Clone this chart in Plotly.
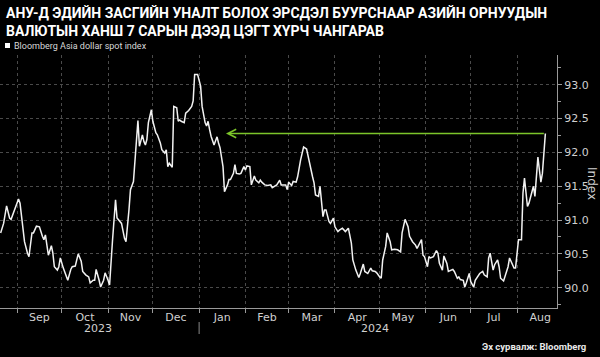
import plotly.graph_objects as go

dates = [
 "2023-08-21","2023-08-23","2023-08-25","2023-08-27","2023-08-28","2023-08-30","2023-09-01","2023-09-02","2023-09-03",
 "2023-09-05","2023-09-06","2023-09-08","2023-09-09","2023-09-11","2023-09-12","2023-09-14","2023-09-15","2023-09-16",
 "2023-09-18","2023-09-19","2023-09-20","2023-09-22","2023-09-24","2023-09-25","2023-09-26","2023-09-28","2023-09-29",
 "2023-09-30","2023-10-02","2023-10-04","2023-10-05","2023-10-07","2023-10-08","2023-10-10","2023-10-12","2023-10-14",
 "2023-10-15","2023-10-17","2023-10-19","2023-10-20","2023-10-22","2023-10-23","2023-10-24","2023-10-26","2023-10-27",
 "2023-10-29","2023-10-30","2023-11-01","2023-11-02","2023-11-04","2023-11-06","2023-11-07","2023-11-09","2023-11-10",
 "2023-11-12","2023-11-13","2023-11-15","2023-11-16","2023-11-18","2023-11-19","2023-11-21","2023-11-22","2023-11-24",
 "2023-11-25","2023-11-26","2023-11-27","2023-11-28","2023-11-30","2023-12-01","2023-12-03","2023-12-04","2023-12-06",
 "2023-12-07","2023-12-09","2023-12-10","2023-12-11","2023-12-12","2023-12-14","2023-12-15","2023-12-17","2023-12-18",
 "2023-12-19","2023-12-20","2023-12-22","2023-12-23","2023-12-25","2023-12-27","2023-12-28","2023-12-29","2023-12-31",
 "2024-01-02","2024-01-03","2024-01-04","2024-01-05","2024-01-06","2024-01-07","2024-01-08","2024-01-09","2024-01-11",
 "2024-01-12","2024-01-13","2024-01-14","2024-01-15","2024-01-17","2024-01-18","2024-01-20","2024-01-21","2024-01-22",
 "2024-01-24","2024-01-25","2024-01-26","2024-01-28","2024-01-29","2024-01-31","2024-02-01","2024-02-02","2024-02-04",
 "2024-02-05","2024-02-07","2024-02-08","2024-02-10","2024-02-11","2024-02-12","2024-02-14","2024-02-16","2024-02-18",
 "2024-02-19","2024-02-22","2024-02-24","2024-02-25","2024-02-28","2024-02-29","2024-03-01","2024-03-03","2024-03-04",
 "2024-03-06","2024-03-07","2024-03-09","2024-03-11","2024-03-13","2024-03-14","2024-03-15","2024-03-17","2024-03-18",
 "2024-03-19","2024-03-21","2024-03-22","2024-03-24","2024-03-25","2024-03-26","2024-03-28","2024-03-29","2024-03-31",
 "2024-04-01","2024-04-03","2024-04-04","2024-04-06","2024-04-08","2024-04-09","2024-04-10","2024-04-12","2024-04-13",
 "2024-04-15","2024-04-17","2024-04-18","2024-04-20","2024-04-21","2024-04-23","2024-04-25","2024-04-26","2024-04-28",
 "2024-04-29","2024-05-01","2024-05-02","2024-05-03","2024-05-05","2024-05-06","2024-05-08","2024-05-09","2024-05-11",
 "2024-05-13","2024-05-15","2024-05-16","2024-05-18","2024-05-20","2024-05-21","2024-05-23","2024-05-25","2024-05-26",
 "2024-05-27","2024-05-29","2024-05-30","2024-05-31","2024-06-02","2024-06-03","2024-06-04","2024-06-06","2024-06-08",
 "2024-06-09","2024-06-10","2024-06-12","2024-06-13","2024-06-15","2024-06-16","2024-06-18","2024-06-19","2024-06-20",
 "2024-06-22","2024-06-23","2024-06-24","2024-06-26","2024-06-27","2024-06-28","2024-06-30","2024-07-01","2024-07-03",
 "2024-07-04","2024-07-06","2024-07-07","2024-07-09","2024-07-10","2024-07-12","2024-07-13","2024-07-14","2024-07-15",
 "2024-07-16","2024-07-17","2024-07-19","2024-07-20","2024-07-21","2024-07-23","2024-07-24","2024-07-26","2024-07-27",
 "2024-07-28","2024-07-30","2024-07-31","2024-08-01","2024-08-02","2024-08-04","2024-08-05","2024-08-06","2024-08-07",
 "2024-08-08","2024-08-09","2024-08-10","2024-08-12","2024-08-13","2024-08-14","2024-08-15","2024-08-16","2024-08-17",
 "2024-08-18","2024-08-20",
]

values = [
 90.81,90.95,91.21,91.03,91.01,91.13,91.27,91.31,91.25,
 90.81,90.68,90.51,90.46,90.81,90.81,90.91,90.91,90.90,
 90.76,90.71,90.78,90.48,90.62,90.51,90.31,90.26,90.31,
 90.44,90.29,90.16,90.11,90.27,90.31,90.32,90.50,90.39,
 90.24,90.19,90.16,90.07,90.11,90.11,90.27,90.11,90.01,
 90.11,90.22,90.11,90.04,90.71,91.30,91.03,90.98,90.95,
 90.73,90.68,91.15,91.45,91.57,91.86,92.47,92.09,92.26,
 92.16,92.11,92.19,92.44,92.63,92.46,92.29,92.26,92.14,
 92.04,91.99,92.04,91.79,91.84,91.78,92.68,92.66,92.46,
 92.48,92.46,92.44,92.58,92.62,92.68,92.76,93.15,93.15,
 92.98,92.68,92.56,92.44,92.39,92.46,92.34,92.24,92.11,
 92.19,92.23,92.14,92.07,91.79,91.42,91.52,91.60,91.60,
 91.69,91.82,91.69,91.68,91.69,91.79,91.74,91.80,91.79,
 91.52,91.65,91.59,91.55,91.59,91.56,91.52,91.51,91.52,
 91.48,91.52,91.59,91.52,91.52,91.45,91.56,91.51,91.57,
 91.56,91.64,91.89,92.08,92.05,91.94,91.82,91.64,91.55,
 91.37,91.35,91.50,91.05,91.15,91.15,90.98,90.95,91.03,
 90.90,90.83,90.85,90.88,90.83,90.85,90.88,90.66,90.41,
 90.26,90.15,90.21,90.35,90.24,90.21,90.29,90.25,90.24,
 90.22,90.16,90.14,90.41,90.61,90.81,90.68,90.56,90.57,
 90.56,90.53,90.81,91.01,90.90,90.76,90.68,90.63,90.58,
 90.63,90.71,90.48,90.46,90.31,90.46,90.44,90.46,90.55,
 90.51,90.36,90.26,90.47,90.36,90.24,90.26,90.27,90.24,
 90.14,90.16,90.12,90.11,90.01,90.07,90.21,90.09,90.01,
 90.11,90.19,90.21,90.24,90.19,90.16,90.44,90.51,90.41,
 90.26,90.34,90.41,90.31,90.14,90.10,90.16,90.31,90.44,
 90.39,90.29,90.29,90.51,90.71,90.71,91.40,91.62,91.35,
 91.20,91.25,91.35,91.50,91.35,91.64,91.93,91.74,91.56,
 91.69,92.28,
]

arrow_level = 92.28
arrow_from = "2024-08-20"
arrow_to = "2024-01-19"

title_lines = [
    "АНУ-Д ЭДИЙН ЗАСГИЙН УНАЛТ БОЛОХ ЭРСДЭЛ БУУРСНААР АЗИЙН ОРНУУДЫН",
    "ВАЛЮТЫН ХАНШ 7 САРЫН ДЭЭД ЦЭГТ ХҮРЧ ЧАНГАРАВ",
]
legend_label = "Bloomberg Asia dollar spot index"
source_text = "Эх сурвалж: Bloomberg"
y_title = "Index"
year_labels = [("2023", "2023-10-25"), ("2024", "2024-04-28")]

W, H = 600, 357
L, R, T, B = 0, 43, 55, 49
PW, PH = W - L - R, H - T - B

def px(xp):
    return (xp - L) / PW

def py(yp):
    return (H - B - yp) / PH

TITLE_FONT = "Roboto, sans-serif"
SMALL_FONT = "Roboto, sans-serif"
TICK_FONT = "DejaVu Sans, sans-serif"

fig = go.Figure()
fig.add_trace(go.Scatter(
    x=dates, y=values, mode="lines",
    line=dict(color="#f2f2f2", width=1.5),
    showlegend=False, hoverinfo="skip",
))

grid = "#4a4a4a"
axis_col = "#9a9a9a"
tick_font = dict(family=TICK_FONT, size=11, color="#d0d0d0")

fig.update_xaxes(
    type="date",
    range=["2023-08-20 14:00", "2024-08-27 19:00"],
    tick0="2023-09-01", dtick="M1", tickformat="%b",
    ticklabelmode="period",
    showgrid=True, gridcolor=grid, griddash="dot", gridwidth=1,
    showline=True, linecolor=axis_col, linewidth=1,
    ticks="outside", ticklen=4, tickcolor=axis_col,
    ticklabelstandoff=-5,
    tickfont=tick_font, zeroline=False,
)
fig.update_yaxes(
    side="right", range=[89.7, 93.44],
    tick0=90, dtick=0.5, tickformat=".1f",
    showgrid=True, gridcolor=grid, griddash="dot", gridwidth=1,
    showline=True, linecolor=axis_col, linewidth=1,
    ticks="outside", ticklen=4, tickcolor=axis_col,
    minor=dict(dtick=0.25, ticks="outside", ticklen=3, tickcolor=axis_col, showgrid=False),
    tickfont=tick_font, zeroline=False,
)

ann = []
ann.append(dict(xref="paper", yref="paper", x=px(4), y=py(22), text="<b>%s</b>" % "<br>".join(title_lines),
                showarrow=False, xanchor="left", yanchor="middle", align="left",
                font=dict(family=TITLE_FONT, size=14, color="#ffffff")))
ann.append(dict(xref="paper", yref="paper", x=px(12), y=py(45.5), text=legend_label,
                showarrow=False, xanchor="left", yanchor="middle",
                font=dict(family=SMALL_FONT, size=9, color="#d8d8d8")))
ann.append(dict(xref="paper", yref="paper", x=px(588), y=py(346), text="<b>%s</b>" % source_text,
                showarrow=False, xanchor="right", yanchor="middle",
                font=dict(family=SMALL_FONT, size=9.5, color="#e8e8e8")))
ann.append(dict(xref="paper", yref="paper", x=px(592), y=py(183), text=y_title, textangle=90,
                showarrow=False, xanchor="center", yanchor="middle",
                font=dict(family=TICK_FONT, size=12, color="#d0d0d0")))
for lab, d in year_labels:
    ann.append(dict(xref="x", yref="paper", x=d, y=py(328), text=lab,
                    showarrow=False, xanchor="center", yanchor="middle",
                    font=tick_font))
ann.append(dict(xref="x", yref="y", x=arrow_to, y=arrow_level,
                axref="x", ayref="y", ax=arrow_from, ay=arrow_level,
                text="", showarrow=True, arrowhead=5, arrowsize=1.1,
                arrowwidth=1.5, arrowcolor="#7cc52a", standoff=0, startstandoff=0))

shapes = [
    dict(type="rect", xref="paper", yref="paper", x0=px(5), x1=px(10), y0=py(48), y1=py(43),
         fillcolor="#ffffff", line=dict(width=0)),
    dict(type="line", xref="x", yref="paper", x0="2024-01-01", x1="2024-01-01",
         y0=py(322), y1=py(334), line=dict(color="#8a8a8a", width=1)),
]

fig.update_layout(
    width=W, height=H,
    margin=dict(l=L, r=R, t=T, b=B),
    paper_bgcolor="#000000", plot_bgcolor="#000000",
    annotations=ann, shapes=shapes,
    showlegend=False,
)

fig.write_html("out.html")
